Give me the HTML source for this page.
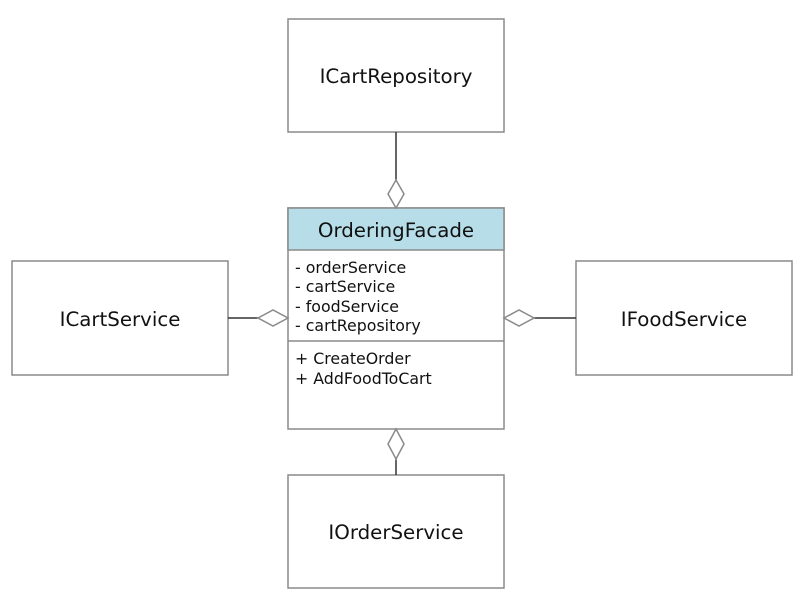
<!DOCTYPE html>
<html><head><style>
body{margin:0;background:#fff;}
svg text{font-family:"DejaVu Sans","Liberation Sans",sans-serif;fill:#111;}
</style></head><body>
<svg width="812" height="607" viewBox="0 0 812 607" xmlns="http://www.w3.org/2000/svg">
<rect width="812" height="607" fill="#fff"/>
<g fill="#fff" stroke="#8a8a8a" stroke-width="1.5">
<rect x="288" y="19" width="216" height="113"/>
<rect x="12" y="261" width="216" height="114"/>
<rect x="576" y="261" width="216" height="114"/>
<rect x="288" y="475" width="216" height="113"/>
<rect x="288" y="208" width="216" height="221"/>
<rect x="288" y="208" width="216" height="42" fill="#b7dde8"/>
<line x1="288" y1="341" x2="504" y2="341"/>
</g>
<g stroke="#333" stroke-width="1.5">
<line x1="396" y1="132" x2="396" y2="180"/>
<line x1="228" y1="318" x2="258" y2="318"/>
<line x1="534" y1="318" x2="576" y2="318"/>
<line x1="396" y1="459" x2="396" y2="475"/>
</g>
<g fill="#fff" stroke="#8a8a8a" stroke-width="1.5">
<polygon points="396,180 404,194 396,208 388,194"/>
<polygon points="258,318 273,310 288,318 273,326"/>
<polygon points="504,318 519,310 534,318 519,326"/>
<polygon points="396,429 404,444 396,459 388,444"/>
</g>
<g font-size="19.8" text-anchor="middle">
<text x="396" y="83">ICartRepository</text>
<text x="120" y="326">ICartService</text>
<text x="684" y="326">IFoodService</text>
<text x="396" y="539">IOrderService</text>
<text x="396" y="237">OrderingFacade</text>
</g>
<g font-size="15.8">
<text x="295" y="273">- orderService</text>
<text x="295" y="292">- cartService</text>
<text x="295" y="312">- foodService</text>
<text x="295" y="331">- cartRepository</text>
<text x="295" y="364">+ CreateOrder</text>
<text x="295" y="384">+ AddFoodToCart</text>
</g>
</svg>
</body></html>
